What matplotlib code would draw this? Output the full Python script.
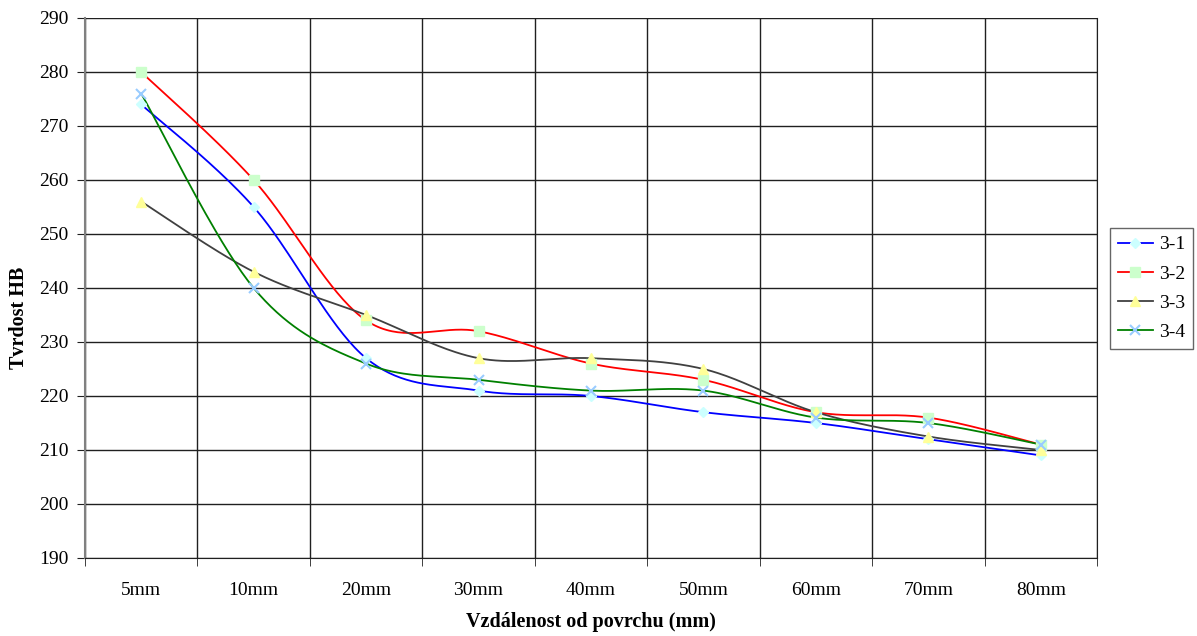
import numpy as np
import matplotlib
matplotlib.use("Agg")
import matplotlib.pyplot as plt
from matplotlib.lines import Line2D

plt.rcParams['font.family'] = ['Liberation Serif', 'DejaVu Serif']

categories = ["5mm", "10mm", "20mm", "30mm", "40mm", "50mm", "60mm", "70mm", "80mm"]
s31 = [274, 255, 227, 221, 220, 217, 215, 212, 209]
s32 = [280, 260, 234, 232, 226, 223, 217, 216, 211]
s33 = [256, 243, 235, 227, 227, 225, 217, 212.5, 210]
s34 = [276, 240, 226, 223, 221, 221, 216, 215, 211]
series_names = ["3-1", "3-2", "3-3", "3-4"]
yticks = list(range(190, 291, 10))


def smooth(xs, ys, n=40):
    """Catmull-Rom style smoothed curve through the points (as in spreadsheet charts)."""
    xs = np.asarray(xs, float)
    ys = np.asarray(ys, float)
    px = np.concatenate([[xs[0]], xs, [xs[-1]]])
    py = np.concatenate([[ys[0]], ys, [ys[-1]]])
    ox, oy = [], []
    for i in range(1, len(px) - 2):
        p0 = np.array([px[i - 1], py[i - 1]])
        p1 = np.array([px[i], py[i]])
        p2 = np.array([px[i + 1], py[i + 1]])
        p3 = np.array([px[i + 2], py[i + 2]])
        c1 = p1 + (p2 - p0) / 6.0
        c2 = p2 - (p3 - p1) / 6.0
        t = np.linspace(0, 1, n)[:, None]
        pts = ((1 - t) ** 3) * p1 + 3 * ((1 - t) ** 2) * t * c1 + 3 * (1 - t) * t ** 2 * c2 + t ** 3 * p2
        ox.extend(pts[:, 0])
        oy.extend(pts[:, 1])
    return np.array(ox), np.array(oy)


W, H = 1197, 636
fig = plt.figure(figsize=(W / 100, H / 100), dpi=100)
ax = fig.add_axes([85 / W, 1 - 558 / H, (1097 - 85) / W, (558 - 18) / H])

x = np.arange(len(categories))
styles = [
    (s31, "#0000FF", "D", "#CCFFFF", 5.5),
    (s32, "#FF0000", "s", "#CCFFCC", 6.5),
    (s33, "#404040", "^", "#FFFF99", 7),
    (s34, "#008000", "x", "#99CCFF", 7),
]

handles = []
for (vals, lc, mk, mc, ms), name in zip(styles, series_names):
    sx, sy = smooth(x, vals)
    ax.plot(sx, sy, color=lc, lw=1.3, zorder=3)
    if mk == "x":
        ax.plot(x, vals, ls="none", marker=mk, ms=ms, mec=mc, mew=1.5, zorder=4)
        h = Line2D([], [], color=lc, lw=1.3, marker=mk, ms=ms, mec=mc, mew=1.5)
    else:
        ax.plot(x, vals, ls="none", marker=mk, ms=ms, mfc=mc, mec=mc, zorder=4)
        h = Line2D([], [], color=lc, lw=1.3, marker=mk, ms=ms, mfc=mc, mec=mc)
    handles.append(h)

ax.set_xlim(-0.5, len(categories) - 0.5)
ax.set_ylim(190, 290)
ax.set_yticks(yticks)
ax.set_xticks(x)
ax.set_xticklabels(categories, fontsize=14)
ax.set_xticks(np.arange(-0.5, len(categories), 1), minor=True)
ax.tick_params(axis="x", which="major", length=0, pad=17)
ax.tick_params(axis="x", which="minor", length=6, color="#202020", direction="out")
ax.tick_params(axis="y", labelsize=14, length=6, color="#202020", direction="out", pad=6)

ax.grid(True, axis="y", color="#202020", lw=1.0, zorder=1)
ax.grid(True, axis="x", which="minor", color="#202020", lw=1.0, zorder=1)
ax.spines["top"].set_visible(False)
ax.spines["left"].set_color("#808080")
ax.spines["left"].set_linewidth(1.5)
ax.spines["right"].set_color("#202020")
ax.spines["bottom"].set_color("#202020")

fig.text(591 / W, 1 - 622 / H, "Vzdálenost od povrchu (mm)", fontsize=14.5,
         fontweight="bold", ha="center", va="center")
fig.text(19 / W, 1 - 318 / H, "Tvrdost HB", fontsize=14.5, fontweight="bold",
         ha="center", va="center", rotation=90)

leg = fig.legend(handles, series_names, loc="upper left",
                 bbox_to_anchor=(1110 / W, 1 - 228 / H), fontsize=14,
                 frameon=True, fancybox=False, edgecolor="#404040",
                 handlelength=1.8, borderpad=0.4, labelspacing=0.6,
                 handletextpad=0.3, borderaxespad=0.0)
leg.get_frame().set_linewidth(1.0)

fig.savefig("out.png", dpi=100)
